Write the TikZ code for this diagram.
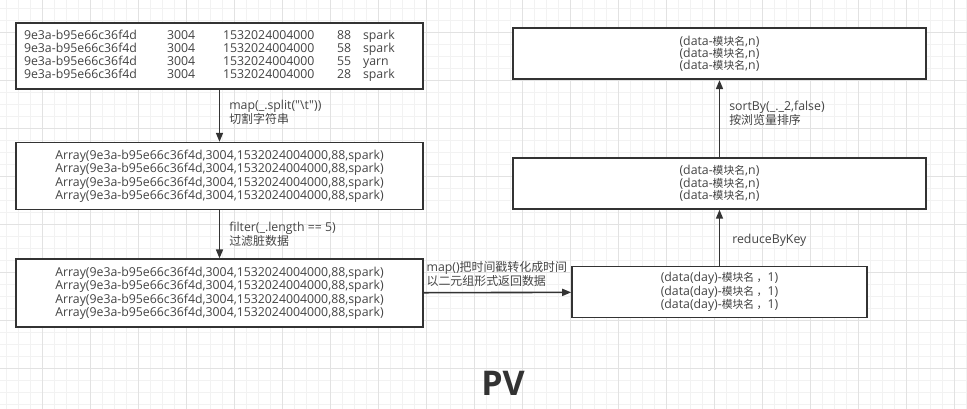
\documentclass[tikz,border=0pt]{standalone}
\usepackage{fontspec}
\setmainfont{Open Sans}[Ligatures=TeXOff]
\newfontfamily\cjk{Noto Sans CJK SC}[Ligatures=TeXOff, Scale=0.88]
\newfontfamily\cjklbl{Noto Sans CJK SC}[Ligatures=TeXOff, Scale=0.97]
\usetikzlibrary{arrows.meta,positioning}
\definecolor{linegray}{HTML}{333333}
\definecolor{textgray}{HTML}{444444}
\definecolor{gridminor}{HTML}{F2F2F2}
\definecolor{gridmajor}{HTML}{E2E2E2}

\tikzset{
  box/.style={draw=linegray, line width=1.6pt, fill=white, align=center, text=textgray,
    font=\fontsize{12.3}{12.2}\selectfont},
  flow/.style={draw=linegray, line width=1.6pt, -{Triangle[length=9pt,width=7pt]}},
  lbl/.style={anchor=west, align=left, text=textgray, inner sep=0pt,
    font=\fontsize{12.3}{11.8}\selectfont},
}
\newcommand{\arrline}{Array(9e3a-b95e66c36f4d,3004,1532024004000,88,spark)}
\newcommand{\pairline}{(data-{\cjk 模块名},n)}
\newcommand{\oneline}{(data(day)-{\cjk 模块名 ，}1)}

\begin{document}
\begin{tikzpicture}[x=1pt, y=-1pt]
  \useasboundingbox (0,0) rectangle (967,409);
  % grid
  \foreach \x in {6,18,...,966} \draw[gridminor, line width=0.8pt] (\x,0) -- (\x,409);
  \foreach \y in {8,20,...,404} \draw[gridminor, line width=0.8pt] (0,\y) -- (967,\y);
  \foreach \x in {42,90,...,966} \draw[gridmajor, line width=0.8pt] (\x,0) -- (\x,409);
  \foreach \y in {32,80,...,404} \draw[gridmajor, line width=0.8pt] (0,\y) -- (967,\y);

  % left column
  \node[box, align=left, text width=391pt, inner xsep=8pt, minimum width=407, minimum height=66] (raw) at (219.5,56)
    {\renewcommand{\arraystretch}{1}\setlength{\tabcolsep}{0pt}%
     \begin{tabular}{@{}p{143pt}p{56pt}p{114pt}p{26pt}l@{}}
       9e3a-b95e66c36f4d & 3004 & 1532024004000 & 88 & spark\\
       9e3a-b95e66c36f4d & 3004 & 1532024004000 & 58 & spark\\
       9e3a-b95e66c36f4d & 3004 & 1532024004000 & 55 & yarn\\
       9e3a-b95e66c36f4d & 3004 & 1532024004000 & 28 & spark
     \end{tabular}};
  \node[box, minimum width=407, minimum height=67, below=52pt of raw] (split)
    {\arrline\\\arrline\\\arrline\\\arrline};
  \node[box, minimum width=407, minimum height=68, below=48pt of split] (clean)
    {\arrline\\\arrline\\\arrline\\\arrline};

  % right column
  \node[box, minimum width=295, minimum height=51] (ones) at (719.5,292)
    {\oneline\\\oneline\\\oneline};
  \node[box, minimum width=413, minimum height=51, above=56pt of ones] (counts)
    {\pairline\\\pairline\\\pairline};
  \node[box, minimum width=413, minimum height=51, above=77pt of counts] (sorted)
    {\pairline\\\pairline\\\pairline};

  % arrows
  \draw[flow] (raw) -- node[lbl, pos=0.44, xshift=9pt] {map(\_.split("\textbackslash t"))\\{\cjklbl 切割字符串}} (split);
  \draw[flow] (split) -- node[lbl, pos=0.5, xshift=9pt] {filter(\_.length == 5)\\{\cjklbl 过滤脏数据}} (clean);
  \draw[flow] (clean) -- node[lbl, pos=0, anchor=south west, xshift=2pt, yshift=5pt]
    {map(){\cjklbl 把时间戳转化成时间}\\{\cjklbl 以二元组形式返回数据}} (ones);
  \draw[flow] (ones) -- node[lbl, pos=0.46, xshift=12pt] {reduceByKey} (counts);
  \draw[flow] (counts) -- node[lbl, pos=0.57, xshift=9pt] {sortBy(\_.\_2,false)\\{\cjklbl 按浏览量排序}} (sorted);

  \node[text=linegray, font=\fontsize{34}{34}\selectfont\bfseries] (title) at (503,383) {PV};
\end{tikzpicture}
\end{document}
